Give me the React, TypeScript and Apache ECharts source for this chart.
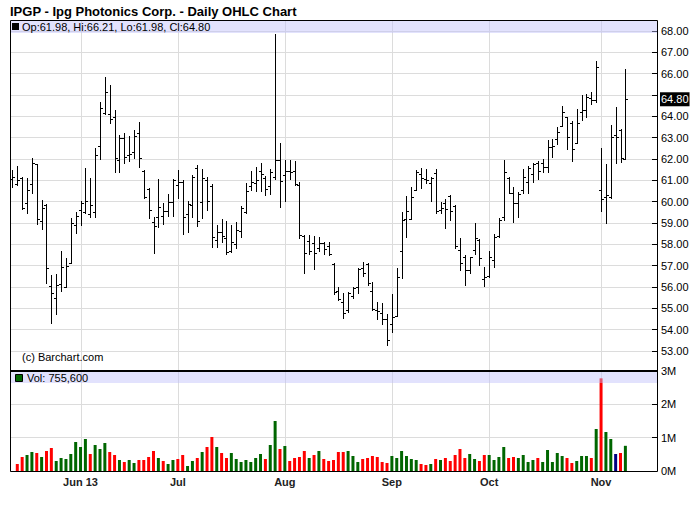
import React, { useEffect, useRef } from "react";
import * as echarts from "echarts";

const TITLE = "IPGP - Ipg Photonics Corp. - Daily OHLC Chart";
const COPYRIGHT = "(c) Barchart.com";
const FIRST_SESSION = "2013-05-13";
const MARKET_HOLIDAYS = ["2013-05-27", "2013-07-04", "2013-09-02"];
const EMPTY_SESSIONS_AFTER = 6;

const monthTickDates = ["2013-06-03", "2013-07-01", "2013-08-01", "2013-09-03", "2013-10-01", "2013-11-01"];
const monthTickLabels = ["Jun 13", "Jul", "Aug", "Sep", "Oct", "Nov"];

const priceAxis = { min: 53, max: 68, step: 1 };
const volumeAxis = { min: 0, max: 3000000, step: 1000000 };

const opens = [
  61.05, 60.83, 61.1, 59.96, 60.83, 61.75, 59.1, 59.86, 56.05, 55.47,
  56.13, 56.02, 57.11, 58.89, 59.61, 59.5, 59.41, 59.5, 62.6, 64.14,
  64.11, 63.95, 61.95, 63.0, 62.2, 62.31, 63.2, 61.45, 60.6, 59.05,
  59.3, 59.35, 59.55, 59.97, 60.8, 60.9, 59.4, 59.85, 61.6, 60.0,
  61.0, 60.75, 58.2, 58.6, 58.3, 57.7, 58.02, 58.62, 59.5, 60.75,
  60.86, 61.45, 61.1, 60.73, 61.17, 61.95, 61.25, 61.44, 61.44, 60.8,
  58.41, 58.16, 58.05, 57.85, 58.08, 57.9, 57.08, 55.81, 55.3, 54.92,
  55.6, 56.02, 56.9, 57.1, 55.81, 54.92, 54.8, 54.5, 54.26, 54.66,
  57.69, 59.17, 59.19, 60.55, 61.3, 61.05, 60.89, 61.33, 59.61, 59.92,
  60.26, 59.81, 57.73, 57.42, 56.8, 57.73, 58.2, 56.36, 56.52, 57.27,
  58.39, 59.3, 61.1, 60.42, 59.92, 60.55, 60.94, 61.3, 61.8, 61.8,
  61.61, 62.58, 62.92, 63.55, 63.95, 63.7, 62.77, 64.2, 64.3, 64.85,
  64.75, 60.55, 60.2, 60.23, 63.13, 63.36, 61.98,
];

const highs = [
  61.49, 61.67, 61.14, 61.1, 62.03, 61.77, 60.08, 59.89, 56.56, 56.61,
  57.69, 57.38, 59.24, 59.52, 60.03, 61.56, 61.13, 62.5, 64.67, 65.86,
  65.48, 64.3, 63.12, 63.23, 63.1, 63.36, 63.75, 61.48, 60.62, 59.3,
  61.05, 59.95, 60.35, 61.05, 61.49, 61.02, 60.05, 61.25, 61.72, 61.53,
  61.14, 60.81, 58.91, 59.17, 59.1, 58.9, 59.06, 59.8, 60.86, 61.45,
  61.64, 61.83, 61.2, 61.52, 67.86, 62.73, 61.95, 61.95, 61.9, 60.94,
  58.44, 58.44, 58.41, 58.33, 58.13, 58.13, 57.11, 56.02, 55.73, 55.78,
  56.02, 56.87, 57.19, 57.11, 56.25, 55.31, 55.27, 54.74, 55.68, 56.9,
  59.53, 60.27, 60.7, 61.48, 61.56, 61.52, 61.14, 61.52, 60.0, 60.11,
  60.31, 59.84, 58.28, 57.5, 57.42, 58.98, 58.25, 56.95, 57.69, 58.47,
  59.22, 61.95, 61.17, 60.7, 60.47, 61.52, 61.67, 61.83, 61.91, 61.98,
  62.89, 62.92, 63.52, 64.48, 63.98, 63.78, 64.33, 65.0, 65.05, 65.16,
  66.6, 62.5, 61.77, 63.59, 64.42, 63.39, 66.21,
];

const lows = [
  60.71, 60.78, 59.64, 59.45, 60.42, 58.94, 58.7, 56.17, 54.33, 54.72,
  55.83, 55.99, 57.11, 58.52, 58.89, 59.45, 59.3, 59.3, 62.02, 64.11,
  63.67, 61.4, 61.4, 61.83, 61.9, 62.06, 61.64, 60.19, 59.22, 57.58,
  58.8, 58.95, 59.35, 59.33, 60.16, 58.47, 58.6, 59.27, 58.86, 59.25,
  59.61, 57.89, 57.89, 58.13, 57.53, 57.65, 57.81, 58.33, 59.45, 60.55,
  60.5, 60.52, 60.31, 60.34, 61.06, 59.77, 60.05, 61.06, 60.78, 58.28,
  56.64, 57.53, 56.84, 57.69, 57.53, 57.5, 55.66, 55.39, 54.56, 54.84,
  55.47, 55.7, 56.53, 56.09, 54.92, 54.48, 54.25, 53.29, 53.91, 54.64,
  56.4, 58.36, 59.17, 60.55, 60.62, 60.89, 60.05, 59.45, 59.48, 58.75,
  59.14, 57.81, 56.8, 56.09, 56.67, 57.53, 57.03, 56.05, 56.45, 56.95,
  58.33, 59.14, 60.39, 59.06, 59.3, 60.39, 60.39, 60.94, 61.05, 61.41,
  61.41, 62.11, 62.7, 63.55, 62.45, 61.92, 62.73, 63.85, 63.95, 64.6,
  64.69, 59.58, 59.02, 60.16, 61.83, 61.88, 61.98,
];

const closes = [
  61.17, 61.0, 59.72, 60.55, 61.8, 59.17, 59.69, 56.88, 55.7, 56.1,
  56.94, 56.98, 58.99, 59.33, 59.92, 60.05, 59.85, 62.19, 64.4, 65.12,
  63.86, 62.03, 63.0, 62.1, 62.25, 63.1, 62.06, 60.2, 59.61, 58.85,
  59.77, 59.55, 60.0, 61.0, 60.9, 59.3, 59.9, 61.17, 59.1, 61.1,
  60.05, 58.33, 58.6, 58.39, 57.65, 58.1, 58.67, 59.72, 60.5, 60.9,
  61.0, 61.3, 60.6, 61.41, 61.95, 60.97, 61.44, 61.4, 60.81, 58.45,
  57.58, 57.7, 57.58, 58.05, 57.78, 57.53, 55.78, 55.44, 54.8, 55.73,
  55.95, 56.84, 56.65, 56.17, 54.95, 54.89, 54.48, 53.5, 54.58, 56.49,
  59.14, 59.58, 60.2, 61.4, 61.1, 61.0, 61.09, 59.55, 59.69, 59.64,
  59.55, 57.92, 57.11, 56.8, 57.39, 58.28, 57.34, 56.48, 57.42, 58.36,
  59.14, 61.41, 60.4, 59.92, 60.36, 61.14, 61.56, 61.77, 61.45, 61.61,
  62.55, 62.62, 63.28, 64.22, 63.05, 62.45, 63.67, 64.3, 64.9, 64.75,
  66.33, 60.11, 60.3, 63.02, 63.02, 62.03, 64.8,
];

const volumes: (number | null)[] = [
  null, 210000, 420000, 480000, 570000, 540000, 420000, 600000, 690000, 300000,
  390000, 360000, 510000, 870000, 720000, 960000, 510000, 780000, 660000, 840000,
  570000, 480000, 330000, 270000, 330000, 240000, 330000, 330000, 420000, 600000,
  390000, 300000, 210000, 330000, 360000, 480000, 150000, 300000, 390000, 570000,
  720000, 1020000, 720000, 540000, 390000, 540000, 360000, 270000, 330000, 270000,
  390000, 510000, 360000, 780000, 1500000, 660000, 750000, 300000, 390000, 420000,
  600000, 390000, 480000, 600000, 360000, 300000, 330000, 570000, 570000, 600000,
  450000, 270000, 360000, 390000, 450000, 420000, 270000, 240000, 450000, 390000,
  600000, 450000, 360000, 330000, 210000, 180000, 210000, 360000, 330000, 390000,
  300000, 480000, 660000, 390000, 510000, 360000, 300000, 480000, 480000, 330000,
  420000, 720000, 390000, 420000, 390000, 480000, 270000, 330000, 390000, 270000,
  630000, 270000, 540000, 450000, 390000, 240000, 300000, 450000, 450000, 390000,
  1260000, 2780000, 1170000, 960000, 510000, 540000, 755600,
];

const FONT = '"Liberation Sans", Arial, Helvetica, sans-serif';
const UP = "#006600";
const DOWN = "#ff0000";
const FLAT = "#000080";
const GRID_COLOR = "#dcdcdc";

function tradingSessions(start: string, count: number, holidays: string[]): string[] {
  const out: string[] = [];
  const d = new Date(start + "T00:00:00Z");
  while (out.length < count) {
    const dow = d.getUTCDay();
    const s = d.toISOString().slice(0, 10);
    if (dow !== 0 && dow !== 6 && !holidays.includes(s)) out.push(s);
    d.setUTCDate(d.getUTCDate() + 1);
  }
  return out;
}

function changeColor(i: number): string {
  if (i === 0) return UP;
  if (closes[i] > closes[i - 1]) return UP;
  if (closes[i] < closes[i - 1]) return DOWN;
  return FLAT;
}

export default function App() {
  const ref = useRef<HTMLDivElement>(null);

  useEffect(() => {
    if (!ref.current) return;
    const chart = echarts.init(ref.current, null, { renderer: "svg" });

    const sessions = tradingSessions(FIRST_SESSION, opens.length + EMPTY_SESSIONS_AFTER, MARKET_HOLIDAYS);
    const last = opens.length - 1;
    const lastClose = closes[last];
    const lastVol = volumes[last] ?? 0;

    const ohlc = opens.map((o, i) => [i, o, highs[i], lows[i], closes[i]]);
    const volData = volumes.map((v, i) =>
      v == null ? "-" : { value: v, itemStyle: { color: changeColor(i) } }
    );

    const left = 10;
    const width = 647;

    const option: any = {
      animation: false,
      backgroundColor: "#fff",
      textStyle: { fontFamily: FONT },
      grid: [
        { left, top: 20, width, height: 451 },
        { left, top: 31, width, height: 320 },
        { left, top: 371, width, height: 100 },
      ],
      xAxis: [
        {
          gridIndex: 0,
          type: "category",
          data: sessions,
          boundaryGap: true,
          axisLine: { show: false },
          axisTick: { show: false },
          splitLine: { show: false },
          axisLabel: {
            interval: (_i: number, v: string) => monthTickDates.includes(v),
            formatter: (v: string) => {
              const k = monthTickDates.indexOf(v);
              return k >= 0 ? monthTickLabels[k] : "";
            },
            fontFamily: FONT,
            fontSize: 11,
            fontWeight: "bold",
            color: "#222",
            margin: 5,
          },
        },
        { gridIndex: 1, type: "category", data: sessions, boundaryGap: true, show: false },
        { gridIndex: 2, type: "category", data: sessions, boundaryGap: true, show: false },
      ],
      yAxis: [
        { gridIndex: 0, type: "value", min: 0, max: 1, show: false },
        {
          gridIndex: 1,
          type: "value",
          position: "right",
          min: priceAxis.min,
          max: priceAxis.max,
          interval: priceAxis.step,
          axisLine: { show: false },
          axisTick: { show: true, inside: true, length: 5, lineStyle: { color: "#000" } },
          axisLabel: {
            // the last-price tag covers the tick label next to it
            formatter: (v: number) => (Math.abs(v - lastClose) < 0.6 ? "" : v.toFixed(2)),
            fontFamily: FONT,
            fontSize: 11,
            color: "#000",
            margin: 4,
          },
          splitLine: { show: true, lineStyle: { color: GRID_COLOR, width: 1 } },
        },
        {
          gridIndex: 2,
          type: "value",
          position: "right",
          min: volumeAxis.min,
          max: volumeAxis.max,
          interval: volumeAxis.step,
          axisLine: { show: false },
          axisTick: { show: true, inside: true, length: 5, lineStyle: { color: "#000" } },
          axisLabel: {
            formatter: (v: number) => `${Math.round(v / 1e6)}M`,
            fontFamily: FONT,
            fontSize: 11,
            color: "#000",
            margin: 4,
          },
          splitLine: { show: true, lineStyle: { color: GRID_COLOR, width: 1 } },
        },
      ],
      series: [
        {
          type: "custom",
          name: "month grid",
          xAxisIndex: 0,
          yAxisIndex: 0,
          z: 1,
          silent: true,
          encode: { x: 0, y: 1 },
          data: monthTickDates.map((d) => [sessions.indexOf(d), 0]),
          renderItem: (params: any, api: any) => {
            const cs = params.coordSys;
            const x = Math.round(api.coord([api.value(0), 0])[0]) + 0.5;
            return {
              type: "line",
              shape: { x1: x, y1: cs.y, x2: x, y2: cs.y + cs.height },
              style: { stroke: GRID_COLOR, lineWidth: 1 },
            };
          },
        },
        {
          type: "custom",
          name: "OHLC",
          xAxisIndex: 1,
          yAxisIndex: 1,
          z: 5,
          silent: true,
          encode: { x: 0, y: [1, 2, 3, 4] },
          data: ohlc,
          renderItem: (_params: any, api: any) => {
            const i = api.value(0);
            const o = api.coord([i, api.value(1)]);
            const h = api.coord([i, api.value(2)]);
            const l = api.coord([i, api.value(3)]);
            const c = api.coord([i, api.value(4)]);
            const x = Math.round(o[0]) + 0.5;
            const yo = Math.round(o[1]) + 0.5;
            const yc = Math.round(c[1]) + 0.5;
            const st = { stroke: "#000", lineWidth: 1 };
            return {
              type: "group",
              children: [
                { type: "line", shape: { x1: x, y1: Math.round(h[1]), x2: x, y2: Math.round(l[1]) + 1 }, style: st },
                { type: "line", shape: { x1: x - 2.5, y1: yo, x2: x, y2: yo }, style: st },
                { type: "line", shape: { x1: x, y1: yc, x2: x + 2.5, y2: yc }, style: st },
              ],
            };
          },
        },
        {
          type: "line",
          name: "last",
          xAxisIndex: 1,
          yAxisIndex: 1,
          data: closes,
          symbol: "none",
          silent: true,
          z: 0,
          lineStyle: { color: "rgba(0,0,0,0)", width: 0 },
          markLine: {
            silent: true,
            symbol: ["none", "none"],
            lineStyle: { color: "rgba(0,0,0,0)", width: 0 },
            label: {
              show: true,
              position: "end",
              formatter: () => lastClose.toFixed(2),
              color: "#fff",
              backgroundColor: "#000",
              padding: [2, 1, 1, 1],
              fontFamily: FONT,
              fontSize: 11,
              distance: 3,
            },
            data: [{ yAxis: lastClose }],
          },
        },
        {
          type: "bar",
          name: "Volume",
          xAxisIndex: 2,
          yAxisIndex: 2,
          barWidth: 3,
          silent: true,
          z: 5,
          data: volData,
        },
      ],
      graphic: [
        {
          type: "text",
          x: 10,
          y: 11,
          z: 100,
          style: { text: TITLE, font: `bold 13px ${FONT}`, fill: "#000", verticalAlign: "middle" },
        },
        {
          type: "rect",
          z: 100,
          silent: true,
          shape: { x: 11, y: 21, width: 646, height: 12 },
          style: { fill: "rgba(190,190,250,0.45)" },
        },
        {
          type: "rect",
          z: 100,
          silent: true,
          shape: { x: 11, y: 372, width: 646, height: 11 },
          style: { fill: "rgba(190,190,250,0.45)" },
        },
        {
          type: "rect",
          z: 101,
          silent: true,
          shape: { x: 10.5, y: 20.5, width: 647, height: 451 },
          style: { fill: "none", stroke: "#000", lineWidth: 1 },
        },
        {
          type: "line",
          z: 101,
          silent: true,
          shape: { x1: 10, y1: 371, x2: 657.5, y2: 371 },
          style: { stroke: "#000", lineWidth: 2 },
        },
        {
          type: "rect",
          z: 102,
          shape: { x: 12, y: 23, width: 7, height: 7 },
          style: { fill: "#000" },
        },
        {
          type: "text",
          x: 22,
          y: 27,
          z: 102,
          style: {
            text: `Op:${opens[last].toFixed(2)}, Hi:${highs[last].toFixed(2)}, Lo:${lows[last].toFixed(2)}, Cl:${closes[last].toFixed(2)}`,
            font: `11px ${FONT}`,
            fill: "#000",
            verticalAlign: "middle",
          },
        },
        {
          type: "rect",
          z: 102,
          shape: { x: 15.5, y: 374.5, width: 7, height: 7 },
          style: { fill: changeColor(last), stroke: "#000", lineWidth: 1 },
        },
        {
          type: "text",
          x: 27,
          y: 378,
          z: 102,
          style: {
            text: `Vol: ${Math.round(lastVol).toLocaleString("en-US")}`,
            font: `11px ${FONT}`,
            fill: "#000",
            verticalAlign: "middle",
          },
        },
        {
          type: "text",
          x: 22,
          y: 357,
          z: 102,
          style: { text: COPYRIGHT, font: `11px ${FONT}`, fill: "#000", verticalAlign: "middle" },
        },
      ],
    };

    chart.setOption(option);
    return () => chart.dispose();
  }, []);

  return (
    <div
      ref={ref}
      style={{ position: "absolute", left: 0, top: 0, width: 700, height: 512, background: "#fff" }}
    />
  );
}
